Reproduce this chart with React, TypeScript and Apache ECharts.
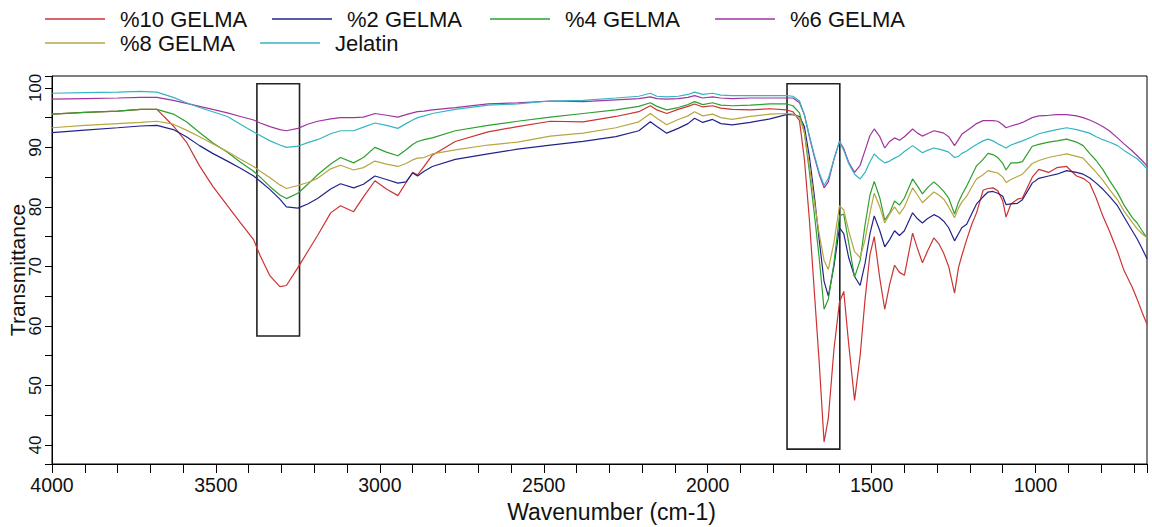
import React, { useEffect, useRef } from "react";
import * as echarts from "echarts";

const wavenumbers = [4000, 3900, 3800, 3730, 3680, 3630, 3590, 3550, 3510, 3465, 3425, 3385, 3365, 3335, 3305, 3285, 3250, 3220, 3190, 3150, 3120, 3080, 3050, 3015, 2980, 2945, 2920, 2900, 2885, 2865, 2840, 2770, 2670, 2580, 2480, 2380, 2280, 2210, 2175, 2155, 2125, 2090, 2060, 2040, 2015, 1985, 1960, 1925, 1870, 1810, 1760, 1740, 1720, 1705, 1690, 1675, 1660, 1645, 1632, 1615, 1598, 1585, 1570, 1552, 1535, 1520, 1505, 1492, 1475, 1460, 1445, 1430, 1415, 1400, 1375, 1360, 1345, 1330, 1310, 1295, 1280, 1265, 1247, 1235, 1225, 1210, 1195, 1180, 1160, 1145, 1130, 1115, 1100, 1090, 1075, 1055, 1040, 1010, 990, 960, 935, 905, 875, 855, 835, 815, 795, 775, 750, 730, 705, 690, 675, 660];

const jelatin = [99.1, 99.2, 99.3, 99.4, 99.3, 98.4, 97.5, 96.7, 96.0, 95.2, 93.9, 92.6, 92.0, 91.1, 90.4, 90.0, 90.2, 90.8, 91.3, 92.3, 92.8, 92.8, 93.4, 94.1, 93.7, 93.2, 94.0, 94.6, 95.0, 95.3, 95.7, 96.4, 97.1, 97.3, 97.8, 97.9, 98.3, 98.6, 99.1, 98.6, 98.5, 98.6, 98.9, 99.3, 98.9, 99.1, 98.8, 98.7, 98.7, 98.7, 98.7, 98.6, 97.8, 95.5, 92.0, 88.8, 85.8, 83.6, 84.8, 88.0, 91.0, 89.5, 87.3, 85.5, 84.7, 85.8, 87.6, 88.9, 88.0, 87.4, 87.7, 88.2, 88.6, 89.3, 90.3, 89.7, 89.1, 89.5, 89.9, 89.7, 89.5, 89.2, 88.3, 88.5, 89.0, 89.4, 90.0, 90.5, 91.1, 91.4, 91.1, 90.6, 90.2, 89.9, 90.4, 90.8, 91.1, 91.8, 92.3, 92.7, 93.0, 93.3, 93.0, 92.7, 92.4, 91.8, 91.3, 90.9, 90.3, 89.5, 88.6, 88.1, 87.3, 86.4];

const gelma6 = [98.1, 98.2, 98.3, 98.4, 98.4, 97.9, 97.4, 96.9, 96.4, 95.8, 95.2, 94.6, 94.1, 93.5, 93.0, 92.8, 93.2, 93.9, 94.4, 94.8, 95.0, 95.0, 95.1, 95.7, 95.4, 95.1, 95.5, 95.8, 96.0, 96.1, 96.3, 96.7, 97.3, 97.5, 97.8, 97.7, 98.0, 98.2, 98.5, 98.2, 98.1, 98.2, 98.4, 98.7, 98.3, 98.5, 98.3, 98.2, 98.3, 98.3, 98.3, 98.3, 97.5, 95.5, 91.8, 88.5, 85.5, 83.2, 84.2, 88.0, 91.0, 89.8, 87.5, 85.8, 87.0, 89.5, 92.0, 93.1, 91.8, 89.9, 91.0, 91.6, 91.2, 91.8, 93.1, 92.4, 91.9, 92.3, 92.8, 92.6, 92.4, 91.8, 90.3, 91.3, 92.2, 92.8, 93.4, 94.0, 94.5, 94.5, 94.5, 94.4, 93.8, 93.3, 93.6, 93.9, 94.2, 95.0, 95.3, 95.4, 95.5, 95.5, 95.3, 95.0, 94.6, 94.1, 93.5, 92.8, 91.6, 90.6, 89.4, 88.6, 87.8, 86.9];

const gelma4 = [95.6, 95.9, 96.1, 96.4, 96.4, 95.6, 94.3, 92.5, 90.8, 89.2, 87.5, 86.0, 85.0, 83.4, 82.0, 81.4, 82.3, 83.8, 85.4, 87.2, 88.3, 87.4, 88.3, 90.0, 89.2, 88.6, 89.6, 90.5, 91.0, 91.3, 91.6, 92.8, 93.7, 94.4, 95.1, 95.7, 96.3, 96.9, 97.5, 96.9, 96.3, 96.7, 97.2, 97.7, 97.2, 97.5, 97.1, 97.0, 97.1, 97.3, 97.3, 97.0, 95.8, 92.5, 86.0, 79.0, 71.5, 62.8, 64.5, 70.5, 78.5, 78.8, 74.0, 68.2, 71.0, 77.0, 82.0, 84.3, 81.5, 77.8, 79.0, 81.0, 80.3, 81.5, 84.7, 83.5, 82.2, 83.2, 84.2, 83.5, 82.6, 81.5, 78.8, 80.8, 82.0, 83.5, 85.2, 86.9, 88.0, 89.0, 88.8, 88.3, 87.3, 86.2, 87.4, 87.4, 87.6, 90.2, 90.5, 90.9, 91.1, 91.4, 90.9, 90.3, 89.0, 87.8, 86.3, 84.5, 82.4, 80.3, 78.2, 77.3, 76.0, 74.8];

const gelma8 = [93.3, 93.7, 94.0, 94.2, 94.4, 93.9, 92.9, 91.8, 90.6, 89.3, 88.0, 86.8, 86.0, 84.9, 83.7, 83.1, 83.6, 84.1, 84.8, 86.4, 87.0, 86.2, 86.6, 87.7, 87.2, 86.8, 87.3, 87.9, 88.2, 88.3, 88.9, 89.6, 90.4, 90.9, 91.9, 92.4, 93.3, 94.3, 95.7, 94.9, 93.8, 94.7, 95.3, 96.0, 95.3, 95.6, 95.0, 94.7, 95.2, 95.6, 95.7, 95.6, 95.0, 92.5, 87.0, 81.0, 75.5, 71.0, 69.5, 74.0, 80.2, 79.5, 76.0, 72.5, 71.5, 74.5, 79.0, 82.3, 80.0, 77.3, 78.8, 80.0, 78.8, 80.0, 83.2, 82.0, 80.7, 81.5, 82.5, 82.0, 81.3, 80.0, 78.2, 79.8, 80.8, 81.8, 83.3, 84.7, 85.4, 86.1, 85.9, 85.7, 85.0, 84.1, 84.6, 85.1, 85.5, 87.3, 87.8, 88.3, 88.6, 88.9, 88.5, 88.2, 87.0, 85.8, 84.5, 83.0, 81.2, 79.3, 77.4, 76.3, 75.5, 74.8];

const gelma2 = [92.5, 92.9, 93.3, 93.6, 93.7, 93.0, 91.8, 90.3, 89.0, 87.7, 86.5, 85.2, 84.3, 82.9, 81.3, 80.0, 79.8, 80.5, 81.4, 83.0, 83.9, 83.2, 83.8, 85.2, 84.6, 84.0, 84.2, 85.7, 85.2, 86.0, 86.8, 88.0, 88.9, 89.7, 90.4, 91.0, 91.8, 92.8, 94.3, 93.5, 92.4, 93.2, 94.0, 94.9, 94.2, 94.7, 94.0, 93.8, 94.2, 94.8, 95.5, 95.5, 95.2, 93.5, 88.5, 82.0, 74.5, 67.5, 65.0, 70.0, 76.5, 75.5, 71.5, 68.3, 66.8, 70.5, 75.5, 78.5, 76.0, 73.3, 74.5, 76.0, 75.2, 76.0, 79.0, 78.0, 77.3, 78.0, 78.7, 78.3, 77.6, 76.5, 74.3, 75.5, 76.5, 77.1, 78.8, 80.5, 81.7, 82.5, 82.6, 82.3, 81.8, 80.4, 80.5, 80.6, 81.2, 84.0, 84.8, 85.2, 85.5, 86.1, 85.8, 85.5, 84.9, 84.0, 83.0, 81.8, 80.2, 78.3, 76.0, 74.6, 73.0, 71.3];

const gelma10 = [95.6, 95.9, 96.1, 96.4, 96.4, 93.6, 90.9, 86.9, 83.5, 80.2, 77.3, 74.5, 71.8, 68.4, 66.6, 66.8, 69.8, 72.5, 75.2, 79.0, 80.2, 79.2, 81.7, 84.4, 83.0, 81.9, 84.1, 85.8, 85.4, 86.8, 88.7, 91.0, 92.6, 93.5, 94.4, 94.3, 95.2, 96.0, 97.0, 96.3, 95.7, 96.4, 96.9, 97.3, 96.8, 97.0, 96.6, 96.4, 96.3, 96.5, 96.3, 96.0, 94.5, 88.0, 78.0, 66.0, 54.0, 40.5, 44.5, 56.0, 64.0, 65.8, 57.0, 47.5, 55.0, 64.5, 72.0, 75.0, 68.0, 62.8, 67.0, 70.2, 69.0, 68.5, 75.6, 73.0, 70.6, 72.5, 74.8, 73.8, 72.2, 70.0, 65.5, 69.8, 71.8, 74.5, 77.0, 79.0, 82.8, 83.1, 83.2, 82.7, 81.0, 78.3, 80.5, 81.3, 81.5, 85.0, 86.3, 85.8, 86.6, 86.8, 85.2, 84.8, 84.0, 81.5, 78.5, 76.0, 72.5, 69.3, 66.5, 64.5, 62.3, 60.3];

const seriesNames = ["%10 GELMA", "%2 GELMA", "%4 GELMA", "%6 GELMA", "%8 GELMA", "Jelatin"];
const seriesValues = [gelma10, gelma2, gelma4, gelma6, gelma8, jelatin];
const seriesColors = ["#cc3333", "#23238c", "#2ea02e", "#a035a0", "#b8a640", "#35b5c3"];

// annotation boxes: [wnLeft, wnRight, bottom, top]
const boxes = [
  [3375, 3245, 58.3, 100.7],
  [1758, 1597, 39.3, 100.7],
];

const legendPos = [
  [45, 8], [272, 8], [490, 8], [715, 8], [45, 32], [260, 32],
];

const xLabelEvery = 500;
const yLabelEvery = 10;

export default function App() {
  const ref = useRef<HTMLDivElement>(null);
  useEffect(() => {
    if (!ref.current) return;
    const chart = echarts.init(ref.current, null, { renderer: "svg" });
    const series: any[] = seriesNames.map((name, i) => ({
      name,
      type: "line",
      symbol: "none",
      data: wavenumbers.map((w, j) => [w, seriesValues[i][j]]),
      lineStyle: { width: 1.2, color: seriesColors[i] },
      itemStyle: { color: seriesColors[i] },
      z: 2,
    }));
    series[0].markArea = {
      silent: true,
      itemStyle: { color: "rgba(0,0,0,0)", borderColor: "#222", borderWidth: 1.6 },
      data: boxes.map((b) => [
        { xAxis: b[0], yAxis: b[3] },
        { xAxis: b[1], yAxis: b[2] },
      ]),
    };
    chart.setOption({
      animation: false,
      backgroundColor: "#ffffff",
      legend: seriesNames.map((name, i) => ({
        data: [name],
        left: legendPos[i][0],
        top: legendPos[i][1],
        padding: 0,
        icon: "rect",
        itemWidth: 60,
        itemHeight: 1.3,
        textStyle: {
          fontSize: 22,
          fontFamily: "Liberation Sans, Arial, sans-serif",
          color: "#111",
          padding: [0, 0, 0, 10],
        },
      })),
      grid: {
        left: 52,
        right: 5,
        top: 76,
        bottom: 63,
        show: true,
        borderColor: "#000",
        borderWidth: 1,
        containLabel: false,
        outerBoundsMode: "none",
      },
      xAxis: {
        type: "value",
        inverse: true,
        min: 660,
        max: 4000,
        minInterval: 100,
        maxInterval: 100,
        axisLine: { show: true, lineStyle: { color: "#000", width: 1 } },
        axisTick: { show: true, length: 9, lineStyle: { color: "#000" } },
        axisLabel: {
          formatter: (v: number) => (Math.abs(v % xLabelEvery) < 1e-6 ? String(v) : ""),
          fontSize: 19.5,
          fontFamily: "Liberation Sans, Arial, sans-serif",
          color: "#111",
          margin: 11,
        },
        splitLine: { show: false },
        name: "Wavenumber (cm-1)",
        nameLocation: "middle",
        nameGap: 36,
        nameMoveOverlap: false,
        nameTextStyle: {
          fontSize: 23,
          fontFamily: "Liberation Sans, Arial, sans-serif",
          color: "#111",
          padding: [0, 0, 0, 24],
        },
      },
      yAxis: {
        type: "value",
        min: 36.8,
        max: 102,
        minInterval: 5,
        maxInterval: 5,
        axisLine: { show: true, lineStyle: { color: "#000", width: 1 } },
        axisTick: { show: true, length: 7, lineStyle: { color: "#000" } },
        axisLabel: {
          show: true,
          inside: false,
          rotate: 90,
          formatter: (v: number) => (Math.abs(v % yLabelEvery) < 1e-6 ? String(Math.round(v)) : ""),
          fontSize: 17,
          fontFamily: "Liberation Sans, Arial, sans-serif",
          color: "#111",
          margin: 8,
        },
        splitLine: { show: false },
        name: "Transmittance",
        nameLocation: "middle",
        nameRotate: 90,
        nameGap: 24,
        nameMoveOverlap: false,
        nameTextStyle: {
          fontSize: 21,
          fontFamily: "Liberation Sans, Arial, sans-serif",
          color: "#111",
        },
      },
      series,
    });
    return () => chart.dispose();
  }, []);
  return (
    <div
      ref={ref}
      style={{ position: "fixed", left: 0, top: 0, width: 1152, height: 527 }}
    />
  );
}
